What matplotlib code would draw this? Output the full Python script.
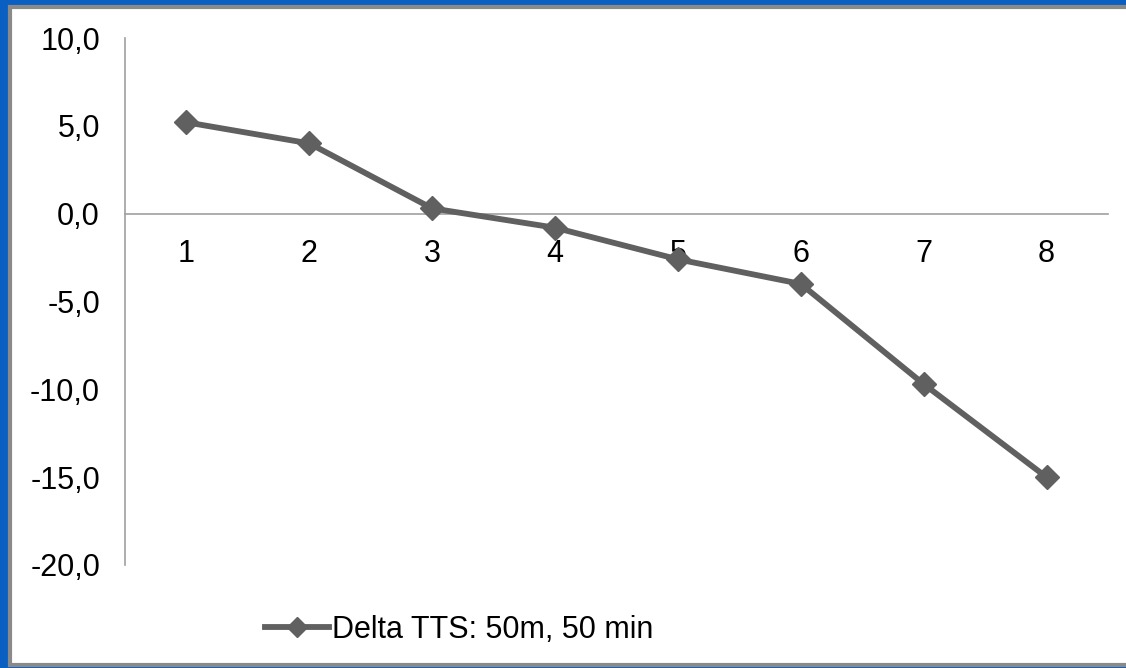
import matplotlib
matplotlib.use('Agg')
import matplotlib.pyplot as plt
from matplotlib.patches import Rectangle
from matplotlib.ticker import FuncFormatter, FixedLocator

# Données
categories = [1, 2, 3, 4, 5, 6, 7, 8]
delta_tts = [5.2, 4.0, 0.3, -0.8, -2.6, -4.0, -9.7, -15.0]
y_ticks = [10, 5, 0, -5, -10, -15, -20]
series_label = 'Delta TTS: 50m, 50 min'

plt.rcParams['font.family'] = ['Liberation Sans', 'DejaVu Sans']

W, H = 1126, 668
fig = plt.figure(figsize=(W / 100, H / 100), dpi=100, facecolor='#0a60c2')

# Cadre blanc avec bordure grise
fig.patches.append(Rectangle((10 / W, 3 / H), 1 - 10 / W + 0.01, 1 - 10 / H,
                             transform=fig.transFigure, facecolor='white',
                             edgecolor='#8a8a8a', linewidth=3, zorder=-1))

ax = fig.add_axes([125 / W, 1 - 565 / H, (1108 - 125) / W, (565 - 38) / H])
ax.set_facecolor('none')

ax.plot(categories, delta_tts, color='#606060', linewidth=4.2, marker='D',
        markersize=12.5, label=series_label, zorder=3, clip_on=False)

ax.set_xlim(0.5, 8.5)
ax.set_ylim(-20, 10)
ax.yaxis.set_major_locator(FixedLocator(y_ticks))
ax.yaxis.set_major_formatter(FuncFormatter(lambda v, p: f'{v:.1f}'.replace('.', ',')))
ax.set_xticks(categories)

for s in ['top', 'right']:
    ax.spines[s].set_visible(False)
ax.spines['bottom'].set_position(('data', 0))
ax.spines['bottom'].set_color('#a0a0a0')
ax.spines['left'].set_color('#a0a0a0')
ax.spines['bottom'].set_linewidth(1.2)
ax.spines['left'].set_linewidth(1.2)

ax.tick_params(axis='both', length=0, labelsize=22, colors='black')
ax.tick_params(axis='x', pad=18)
ax.tick_params(axis='y', pad=18)

fig.legend(loc='center left', bbox_to_anchor=(265 / W, 1 - 630 / H), frameon=False,
           fontsize=22, handlelength=2.1, handletextpad=0.1, borderpad=0,
           borderaxespad=0, markerscale=0.8)

fig.savefig('out.png', dpi=100, facecolor=fig.get_facecolor())
